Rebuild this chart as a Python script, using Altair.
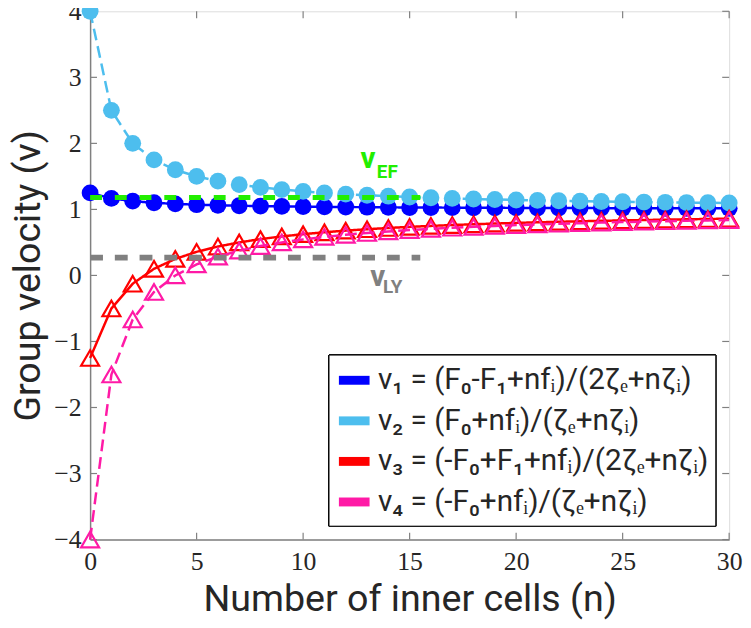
import altair as alt
import pandas as pd

n_vals = list(range(31))
v1 = [1.25, 1.1667, 1.125, 1.1, 1.0833, 1.0714, 1.0625, 1.0556, 1.05, 1.0455, 1.0417,
      1.0385, 1.0357, 1.0333, 1.0313, 1.0294, 1.0278, 1.0263, 1.025, 1.0238, 1.0227,
      1.0217, 1.0208, 1.02, 1.0192, 1.0185, 1.0179, 1.0172, 1.0167, 1.0161, 1.0156]
v2 = [4.0, 2.5, 2.0, 1.75, 1.6, 1.5, 1.4286, 1.375, 1.3333, 1.3, 1.2727,
      1.25, 1.2308, 1.2143, 1.2, 1.1875, 1.1765, 1.1667, 1.1579, 1.15, 1.1429,
      1.1364, 1.1304, 1.125, 1.12, 1.1154, 1.1111, 1.1071, 1.1034, 1.1, 1.0968]
v3 = [-1.25, -0.5, -0.125, 0.1, 0.25, 0.3571, 0.4375, 0.5, 0.55, 0.5909, 0.625,
      0.6538, 0.6786, 0.7, 0.7188, 0.7353, 0.75, 0.7632, 0.775, 0.7857, 0.7955,
      0.8043, 0.8125, 0.82, 0.8269, 0.8333, 0.8393, 0.8448, 0.85, 0.8548, 0.8594]
v4 = [-4.0, -1.5, -0.6667, -0.25, 0.0, 0.1667, 0.2857, 0.375, 0.4444, 0.5, 0.5455,
      0.5833, 0.6154, 0.6429, 0.6667, 0.6875, 0.7059, 0.7222, 0.7368, 0.75, 0.7619,
      0.7727, 0.7826, 0.7917, 0.8, 0.8077, 0.8148, 0.8214, 0.8276, 0.8333, 0.8387]

labels = [
    "v\u2081 = (F\u2080-F\u2081+nf\u1d62)/(2\u03b6\u2091+n\u03b6\u1d62)",
    "v\u2082 = (F\u2080+nf\u1d62)/(\u03b6\u2091+n\u03b6\u1d62)",
    "v\u2083 = (-F\u2080+F\u2081+nf\u1d62)/(2\u03b6\u2091+n\u03b6\u1d62)",
    "v\u2084 = (-F\u2080+nf\u1d62)/(\u03b6\u2091+n\u03b6\u1d62)",
]
colors = ["#0000FF", "#4DBEEE", "#FF0000", "#FF1AA6"]
dashes = [[1, 0], [12, 6], [1, 0], [12, 6]]

ref_x = [0, 15.5]
v_ef = 1.18
v_ly = 0.27

xticks = [0, 5, 10, 15, 20, 25, 30]
yticks = [-4, -3, -2, -1, 0, 1, 2, 3, 4]

W, H = 646, 534

rows = []
for lab, ser in zip(labels, [v1, v2, v3, v4]):
    for n, v in zip(n_vals, ser):
        rows.append({"n": n, "v": v, "series": lab})
df = pd.DataFrame(rows)

ref_df = pd.DataFrame({"n": ref_x * 2, "v": [v_ef, v_ef, v_ly, v_ly],
                       "ref": ["EF", "EF", "LY", "LY"]})

xs = alt.Scale(domain=[0, 30], nice=False, zero=False)
ys = alt.Scale(domain=[-4, 4], nice=False, zero=False)

xaxis = alt.Axis(
    values=xticks, title="Number of inner cells (n)", labelFont="Liberation Serif",
    labelFontSize=26, labelColor="#262626", ticks=False, grid=False, format="d",
    domainColor="#808080", domainWidth=1.5, titleFont="Roboto", titleFontSize=38,
    titleFontWeight="normal", titleColor="#262626", labelPadding=9, titlePadding=7,
    labelFlush=False, labelOverlap=False)
yaxis = alt.Axis(
    values=yticks, title="Group velocity (v)", labelFont="Liberation Serif",
    labelFontSize=26, labelColor="#262626", ticks=False, grid=False, format="d",
    domainColor="#808080", domainWidth=1.5, titleFont="Roboto", titleFontSize=38,
    titleFontWeight="normal", titleColor="#262626", labelPadding=9, titlePadding=6,
    labelOverlap=False)
X = alt.X("n:Q", scale=xs, axis=xaxis)
Y = alt.Y("v:Q", scale=ys, axis=yaxis)

legend = alt.Legend(
    title=None, orient="none", legendX=241, legendY=347, symbolType="stroke",
    symbolSize=961, symbolStrokeWidth=9, labelFont="Roboto", labelFontSize=30,
    labelColor="#262626", labelLimit=700, fillColor="white", strokeColor="black",
    padding=6, rowPadding=3, labelOffset=4, direction="vertical",
    labelExpr="datum.label + '\u2003'")
cscale = alt.Scale(domain=labels, range=colors)
dscale = alt.Scale(domain=labels, range=dashes)

layers = []
for i, lab in enumerate(labels):
    base = alt.Chart(df).transform_filter(alt.datum.series == lab)
    line = base.mark_line(strokeWidth=2.5).encode(
        x=X, y=Y,
        color=alt.Color("series:N", scale=cscale, legend=legend, sort=labels),
        strokeDash=alt.StrokeDash("series:N", scale=dscale, legend=legend, sort=labels),
        order="n:Q")
    if i < 2:
        pts = base.mark_circle(size=290, opacity=1, color=colors[i]).encode(x=X, y=Y)
    else:
        pts = base.mark_point(shape="triangle-up", filled=False, size=330,
                              strokeWidth=2.2, opacity=1, color=colors[i]).encode(x=X, y=Y)
    layers += [line, pts]

ef_line = alt.Chart(ref_df).transform_filter(alt.datum.ref == "EF").mark_line(
    color="#22EE00", strokeWidth=5, strokeDash=[12, 13]).encode(x=X, y=Y)
ly_line = alt.Chart(ref_df).transform_filter(alt.datum.ref == "LY").mark_line(
    color="#808080", strokeWidth=6, strokeDash=[13, 12]).encode(x=X, y=Y)

ann_df = pd.DataFrame({
    "n": [13.05, 13.95, 13.5, 14.2],
    "v": [1.76, 1.57, -0.02, -0.17],
    "t": ["v", "EF", "v", "LY"],
    "kind": ["big", "sub", "big", "sub"],
    "c": ["ef", "ef", "ly", "ly"],
})
ann_cs = alt.Scale(domain=["ef", "ly"], range=["#22EE00", "#808080"])
ann_big = alt.Chart(ann_df).transform_filter(alt.datum.kind == "big").mark_text(
    font="Roboto", fontSize=30, fontWeight="bold", baseline="middle").encode(
    x=X, y=Y, text="t:N", color=alt.Color("c:N", scale=ann_cs, legend=None))
ann_sub = alt.Chart(ann_df).transform_filter(alt.datum.kind == "sub").mark_text(
    font="Roboto", fontSize=19, fontWeight="bold", baseline="middle").encode(
    x=X, y=Y, text="t:N", color=alt.Color("c:N", scale=ann_cs, legend=None))

xt_df = pd.DataFrame({"n": xticks})
yt_df = pd.DataFrame({"v": yticks})
tick_col = "#808080"
xt_bot = alt.Chart(xt_df).mark_rule(color=tick_col, strokeWidth=1.2).encode(
    x=X, y=alt.value(H), y2=alt.value(H - 7))
xt_top = alt.Chart(xt_df).mark_rule(color=tick_col, strokeWidth=1.2).encode(
    x=X, y=alt.value(0), y2=alt.value(7))
yt_l = alt.Chart(yt_df).mark_rule(color=tick_col, strokeWidth=1.2).encode(
    y=Y, x=alt.value(0), x2=alt.value(7))
yt_r = alt.Chart(yt_df).mark_rule(color=tick_col, strokeWidth=1.2).encode(
    y=Y, x=alt.value(W), x2=alt.value(W - 7))

chart = alt.layer(
    xt_bot, xt_top, yt_l, yt_r, *layers, ef_line, ly_line, ann_big, ann_sub
).resolve_scale(color="independent").properties(
    width=W, height=H,
    padding={"left": 83, "top": 0, "right": 14, "bottom": 80},
    autosize=alt.AutoSizeParams(type="none"),
).configure_view(stroke="#808080", strokeWidth=1.5).configure(background="white")

chart.save("out.html", embed_options={"renderer": "svg", "actions": False})
